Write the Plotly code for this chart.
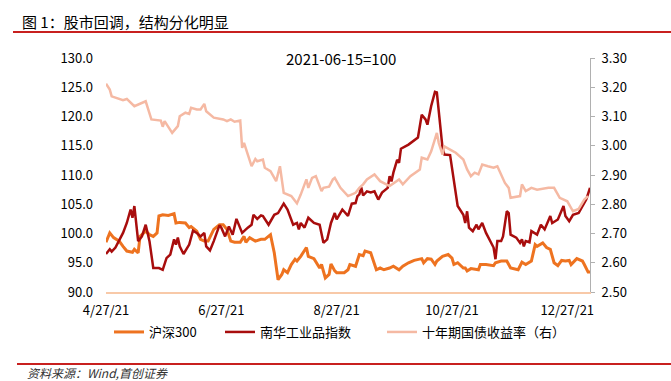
import pandas as pd
import plotly.graph_objects as go

START = pd.Timestamp("2021-04-27")

# 沪深300 (2021-06-15=100): day offsets from 2021-04-27 and values
hs300_days = [0, 2, 4, 7, 9, 11, 14, 15, 17, 18, 21, 23, 25, 27, 28, 30, 33, 36, 37, 39,
              42, 44, 45, 48, 50, 52, 54, 57, 60, 62, 64, 66, 68, 71, 73, 74, 76, 79, 82, 84,
              87, 89, 90, 91, 93, 94, 96, 98, 100, 101, 103, 106, 107, 110, 113, 114, 116, 118, 119, 121,
              122, 126, 128, 129, 132, 134, 136, 137, 140, 141, 143, 145, 147, 150, 152, 155, 157, 160, 163, 167,
              168, 170, 172, 174, 175, 178, 181, 183, 184, 186, 189, 190, 191, 193, 197, 198, 201, 205, 206, 209,
              212, 214, 218, 220, 222, 225, 227, 228, 231, 233, 235, 237, 239, 241, 243, 245, 246, 249, 252, 253,
              255, 256]
hs300_vals = [98.5, 100.1, 99.3, 98.7, 97.8, 97.0, 96.8, 97.3, 96.7, 99.5, 100.4, 99.8, 99.5, 100.1, 103.0, 103.2, 103.1, 103.4, 101.8, 101.9,
              101.8, 101.0, 101.2, 100.4, 99.0, 98.7, 98.7, 100.7, 101.5, 101.5, 100.7, 98.7, 98.5, 98.5, 99.5, 98.5, 99.3, 98.7, 99.0, 99.0,
              99.8, 96.7, 94.4, 92.1, 93.0, 93.8, 93.3, 94.7, 95.6, 95.3, 96.1, 97.6, 96.1, 95.7, 94.1, 94.7, 92.4, 93.0, 94.8, 93.6,
              93.3, 93.3, 93.8, 94.7, 94.4, 96.4, 96.2, 97.0, 96.7, 95.8, 93.8, 94.1, 93.8, 94.1, 94.4, 93.8, 94.4, 95.0, 95.4, 95.7,
              95.0, 95.7, 95.6, 94.7, 95.3, 96.1, 96.4, 95.8, 94.7, 95.0, 94.1, 94.1, 93.6, 94.0, 93.8, 94.7, 94.7, 94.5, 95.0, 95.3,
              95.3, 94.1, 93.8, 95.1, 94.7, 95.3, 98.1, 97.8, 98.4, 97.6, 97.3, 95.0, 94.5, 95.4, 95.3, 95.4, 94.7, 95.7, 95.3, 94.7,
              93.4, 93.4]

# 南华工业品指数 (2021-06-15=100)
nanhua_days = [0, 2, 3, 5, 9, 11, 13, 14, 15, 17, 19, 21, 23, 25, 28, 30, 32, 34, 36, 37,
               38, 39, 41, 44, 46, 48, 50, 52, 53, 55, 57, 60, 61, 63, 65, 67, 69, 72, 75, 77,
               78, 80, 82, 83, 86, 89, 91, 94, 96, 98, 99, 101, 102, 103, 105, 107, 110, 113, 115, 117,
               119, 121, 122, 125, 128, 130, 132, 133, 134, 135, 136, 138, 140, 142, 144, 146, 149, 150, 151, 152,
               154, 155, 156, 160, 165, 167, 169, 170, 172, 174, 175, 178, 179, 182, 184, 186, 189, 190, 191, 192,
               194, 196, 197, 199, 201, 203, 205, 206, 207, 209, 210, 212, 213, 214, 217, 219, 220, 221, 222, 224,
               225, 228, 230, 232, 235, 236, 239, 242, 243, 245, 247, 250, 252, 254, 256]
nanhua_vals = [96.5, 97.3, 96.9, 97.6, 100.1, 101.8, 104.1, 102.7, 104.7, 98.7, 99.5, 101.5, 98.7, 94.1, 94.1, 93.8, 95.8, 96.4, 99.0, 98.1,
               99.3, 97.8, 96.5, 98.1, 100.5, 100.1, 99.5, 100.1, 97.8, 97.1, 98.7, 101.4, 101.0, 99.5, 101.2, 99.8, 102.5, 100.1, 101.0, 101.5,
               103.2, 102.5, 103.1, 103.0, 101.5, 103.2, 103.5, 105.1, 104.1, 102.4, 101.5, 101.8, 100.7, 101.8, 101.0, 102.7, 101.8, 101.5, 98.4, 99.0,
               101.8, 103.5, 102.4, 104.1, 103.0, 105.1, 105.2, 106.4, 106.7, 107.9, 106.5, 107.2, 107.0, 107.2, 105.8, 107.0, 107.8, 109.8, 108.9, 110.4,
               112.6, 112.1, 114.5, 115.2, 116.4, 120.3, 119.5, 118.6, 121.8, 124.2, 124.1, 114.6, 113.5, 113.4, 108.7, 104.7, 103.2, 101.8, 103.8, 101.0,
               100.4, 101.5, 100.7, 101.8, 100.1, 98.7, 97.6, 95.6, 98.7, 98.7, 99.5, 103.8, 103.5, 99.8, 99.3, 98.4, 99.0, 97.8, 98.7, 98.5,
               100.4, 99.8, 101.5, 100.7, 103.0, 101.8, 102.4, 104.7, 103.0, 102.1, 103.2, 103.5, 104.7, 105.8, 107.8]

# 十年期国债收益率 (%, right axis)
cgb_days = [0, 2, 3, 9, 11, 15, 21, 24, 29, 30, 31, 35, 38, 39, 42, 44, 45, 48, 50, 52,
            53, 57, 62, 64, 66, 68, 71, 72, 73, 77, 79, 80, 83, 84, 87, 90, 92, 94, 98, 101,
            103, 106, 107, 109, 111, 114, 115, 118, 120, 121, 124, 128, 132, 134, 136, 138, 142, 145, 150, 155,
            157, 161, 166, 167, 170, 172, 175, 176, 178, 179, 182, 185, 189, 190, 191, 193, 195, 197, 199, 202,
            205, 207, 211, 213, 214, 219, 220, 222, 225, 228, 234, 237, 240, 244, 247, 250, 253, 255]
cgb_vals = [3.212, 3.192, 3.169, 3.156, 3.160, 3.135, 3.152, 3.090, 3.086, 3.065, 3.084, 3.044, 3.067, 3.101, 3.113, 3.109, 3.130, 3.124, 3.124, 3.143,
            3.118, 3.096, 3.090, 3.084, 3.090, 3.082, 3.086, 2.993, 3.010, 2.930, 2.955, 2.947, 2.953, 2.925, 2.913, 2.879, 2.930, 2.839, 2.828, 2.803,
            2.833, 2.885, 2.856, 2.890, 2.896, 2.845, 2.856, 2.860, 2.885, 2.890, 2.856, 2.828, 2.839, 2.856, 2.868, 2.885, 2.902, 2.879, 2.862, 2.885,
            2.868, 2.896, 2.919, 2.959, 2.953, 2.981, 3.044, 3.010, 2.970, 2.998, 2.987, 2.976, 2.953, 2.936, 2.919, 2.896, 2.908, 2.902, 2.936, 2.930,
            2.925, 2.930, 2.873, 2.856, 2.822, 2.828, 2.868, 2.845, 2.856, 2.850, 2.856, 2.856, 2.822, 2.810, 2.776, 2.784, 2.816, 2.828]

x_tick_dates = ["2021-04-27", "2021-06-27", "2021-08-27", "2021-10-27", "2021-12-27"]
x_tick_text = ["4/27/21", "6/27/21", "8/27/21", "10/27/21", "12/27/21"]
left_ticks = [90, 95, 100, 105, 110, 115, 120, 125, 130]
right_ticks = [2.5, 2.6, 2.7, 2.8, 2.9, 3.0, 3.1, 3.2, 3.3]


def to_dates(days):
    return START + pd.to_timedelta(days, unit="D")


FONT = "Noto Sans CJK SC"
PW, PH = 484, 234  # plot area size in px (for paper-coordinate placement)

fig = go.Figure()
fig.add_trace(go.Scatter(x=to_dates(hs300_days), y=hs300_vals, name="沪深300", mode="lines",
                         line=dict(color="#EE7320", width=3), legend="legend"))
fig.add_trace(go.Scatter(x=to_dates(nanhua_days), y=nanhua_vals, name="南华工业品指数", mode="lines",
                         line=dict(color="#A80D0D", width=2.5), legend="legend2"))
fig.add_trace(go.Scatter(x=to_dates(cgb_days), y=cgb_vals, name="十年期国债收益率（右）", mode="lines",
                         line=dict(color="#F5B9A3", width=2.5), yaxis="y2", legend="legend3"))

leg_common = dict(orientation="h", xanchor="left", yanchor="middle", y=-40 / PH,
                  font=dict(size=13), itemwidth=30, bgcolor="rgba(0,0,0,0)")

fig.update_layout(
    width=671, height=381,
    margin=dict(l=106, r=81, t=58, b=89),
    paper_bgcolor="white", plot_bgcolor="white",
    font=dict(family=FONT, size=13, color="#000000"),
    showlegend=True,
    legend=dict(x=(112 - 106 - 3) / PW, **leg_common),
    legend2=dict(x=(223 - 106 - 3) / PW, **leg_common),
    legend3=dict(x=(385 - 106 - 3) / PW, **leg_common),
    xaxis=dict(type="date", range=["2021-04-27", "2022-01-08"], tickvals=x_tick_dates, ticktext=x_tick_text,
               showgrid=False, zeroline=False, showline=True, linecolor="#F8C9A8", linewidth=1.5,
               ticks="", tickfont=dict(size=13), ticklabelstandoff=6),
    yaxis=dict(range=[90, 130], tickvals=left_ticks, tickformat=".1f", showgrid=False, zeroline=False,
               showline=False, ticks="", tickfont=dict(size=13), ticklabelstandoff=12),
    yaxis2=dict(range=[2.5, 3.3], tickvals=right_ticks, tickformat=".2f", overlaying="y", side="right",
                showgrid=False, zeroline=False, showline=True, linecolor="#B0B0B0", linewidth=1,
                ticks="outside", ticklen=4, tickcolor="#B0B0B0", tickfont=dict(size=13),
                ticklabelstandoff=4),
)

fig.add_annotation(text="2021-06-15=100", xref="paper", yref="paper", x=0.485, y=1.0,
                   xanchor="center", yanchor="middle", showarrow=False, font=dict(size=15))
fig.add_annotation(text="图 1：股市回调，结构分化明显", xref="paper", yref="paper",
                   x=-86 / PW, y=1 + 37 / PH, xanchor="left", yanchor="middle", showarrow=False,
                   font=dict(size=15))
fig.add_annotation(text="<i>资料来源：Wind,首创证券</i>", xref="paper", yref="paper",
                   x=-81 / PW, y=-80 / PH, xanchor="left", yanchor="middle", showarrow=False,
                   font=dict(size=12, color="#333333"))
# header / footer rules
fig.add_shape(type="line", xref="paper", yref="paper", x0=-93 / PW, x1=565 / PW,
              y0=1 + 26 / PH, y1=1 + 26 / PH, line=dict(color="#C8201F", width=2))
fig.add_shape(type="line", xref="paper", yref="paper", x0=-89 / PW, x1=565 / PW,
              y0=-72 / PH, y1=-72 / PH, line=dict(color="#C8201F", width=2))

fig.write_html("out.html", config={"displayModeBar": False},
               post_script="document.body.style.margin='0px';")
